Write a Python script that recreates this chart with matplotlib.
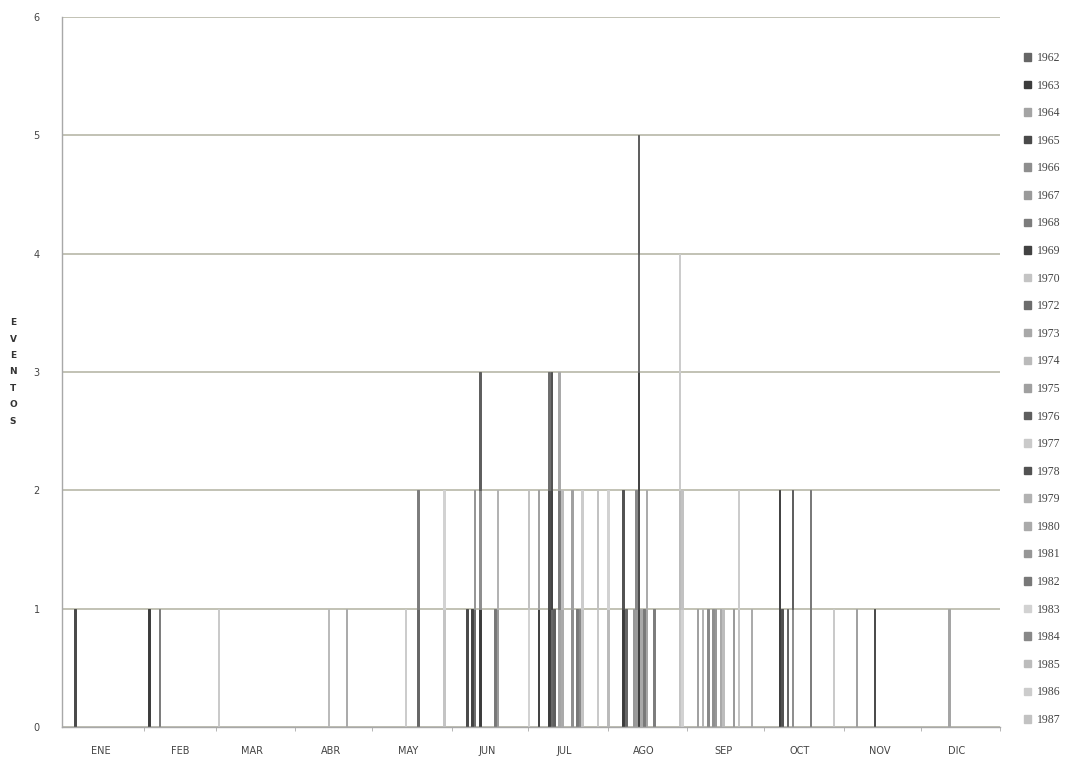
import numpy as np
import matplotlib
matplotlib.use("Agg")
import matplotlib.pyplot as plt
from matplotlib.patches import Patch

# years shown in the legend (1971 is not in the source)
years = [1962, 1963, 1964, 1965, 1966, 1967, 1968, 1969, 1970, 1972, 1973, 1974,
         1975, 1976, 1977, 1978, 1979, 1980, 1981, 1982, 1983, 1984, 1985, 1986, 1987]
year_colors = ['#666666', '#3c3c3c', '#a4a4a4', '#4a4a4a', '#8e8e8e', '#9a9a9a',
               '#7c7c7c', '#424242', '#c4c4c4', '#6c6c6c', '#a8a8a8', '#bababa',
               '#a0a0a0', '#5e5e5e', '#cacaca', '#525252', '#b2b2b2', '#aaaaaa',
               '#969696', '#787878', '#d2d2d2', '#888888', '#bcbcbc', '#cccccc',
               '#c2c2c2']

months = ['ENE', 'FEB', 'MAR', 'ABR', 'MAY', 'JUN', 'JUL', 'AGO', 'SEP', 'OCT', 'NOV', 'DIC']
month_days = [31, 28, 31, 30, 31, 30, 31, 31, 30, 31, 30, 31]

# one entry per event: day of year and year (approximate)
event_day = [4, 33, 37, 60, 103, 110, 133,
             138, 138, 148, 148, 157, 159, 160, 160,
             162, 162, 162, 168, 169, 169, 181, 181, 185, 185,
             189, 189, 189, 190, 190, 190, 191, 193, 193, 193,
             194, 194, 198, 198, 200, 201, 202, 202, 208, 208,
             212, 212, 218, 218, 219, 222, 223, 223,
             224, 224, 224, 224, 224, 225, 226, 227, 227, 230,
             240, 240, 240, 240, 241, 241,
             247, 249, 251, 253, 254, 256, 257, 261, 263, 263, 268,
             279, 279, 280, 282, 284, 284, 291, 291,
             300, 309, 316, 345]
event_year = [1965, 1963, 1968, 1977, 1974, 1980, 1986,
              1962, 1968, 1970, 1983, 1965, 1969, 1972, 1981,
              1963, 1966, 1976, 1982, 1967, 1979, 1983, 1987, 1969, 1975,
              1963, 1965, 1972, 1962, 1969, 1978, 1976, 1964, 1968, 1973,
              1980, 1985, 1966, 1975, 1982, 1984, 1970, 1986, 1977, 1987,
              1974, 1983, 1963, 1978, 1962, 1981, 1967, 1984,
              1963, 1965, 1969, 1972, 1976, 1973, 1982, 1964, 1980, 1968,
              1970, 1974, 1977, 1986, 1983, 1987,
              1975, 1979, 1984, 1966, 1981, 1973, 1985, 1967, 1970, 1986, 1980,
              1963, 1969, 1978, 1962, 1966, 1976, 1968, 1982,
              1977, 1975, 1965, 1964]

# stacked counts per day and year
counts = np.zeros((len(years), 366))
for d, y in zip(event_day, event_year):
    counts[years.index(y), d] += 1

fig = plt.figure(figsize=(10.73, 7.6), dpi=100)
ax = fig.add_axes([62 / 1073, 1 - 727 / 760, 938 / 1073, 710 / 760])

days = np.arange(366)
bottom = np.zeros(366)
for i, y in enumerate(years):
    mask = counts[i] > 0
    ax.bar(days[mask], counts[i][mask], bottom=bottom[mask], width=0.6,
           color=year_colors[i], edgecolor=year_colors[i], linewidth=0.7)
    bottom += counts[i]

ax.set_xlim(-1, 365)
ax.set_ylim(0, 6)
ax.set_yticks(range(7))
ax.yaxis.grid(True, color='#b2b2a0', linewidth=1.1)
ax.set_axisbelow(True)

starts = np.concatenate([[0], np.cumsum(month_days)])
ax.set_xticks(starts[:-1] + 14)
ax.set_xticklabels(months)
ax.set_xticks(starts[1:], minor=True)
ax.tick_params(axis='x', which='major', length=0, pad=14, labelsize=7, colors='#444444')
ax.tick_params(axis='x', which='minor', length=3, color='#aaaaaa')
ax.tick_params(axis='y', length=0, pad=16, labelsize=7, colors='#444444')

for s in ['top', 'right']:
    ax.spines[s].set_visible(False)
for s in ['left', 'bottom']:
    ax.spines[s].set_color('#a8a8a8')
    ax.spines[s].set_linewidth(1.0)

fig.text(13 / 1073, 1 - 372 / 760, 'E\nV\nE\nN\nT\nO\nS', ha='center', va='center',
         fontsize=6.5, fontweight='bold', color='#333333', linespacing=2.05)

handles = [Patch(facecolor=c, edgecolor=c) for c in year_colors]
fig.legend(handles, [str(y) for y in years], loc='upper left',
           bbox_to_anchor=(1024 / 1073, 1 - 52 / 760), frameon=False,
           prop={'family': 'Liberation Serif', 'size': 8.5},
           handlelength=0.6, handleheight=0.6, handletextpad=0.5,
           labelspacing=1.32, labelcolor='#444444', borderaxespad=0, borderpad=0)

fig.savefig('out.png', dpi=100)
